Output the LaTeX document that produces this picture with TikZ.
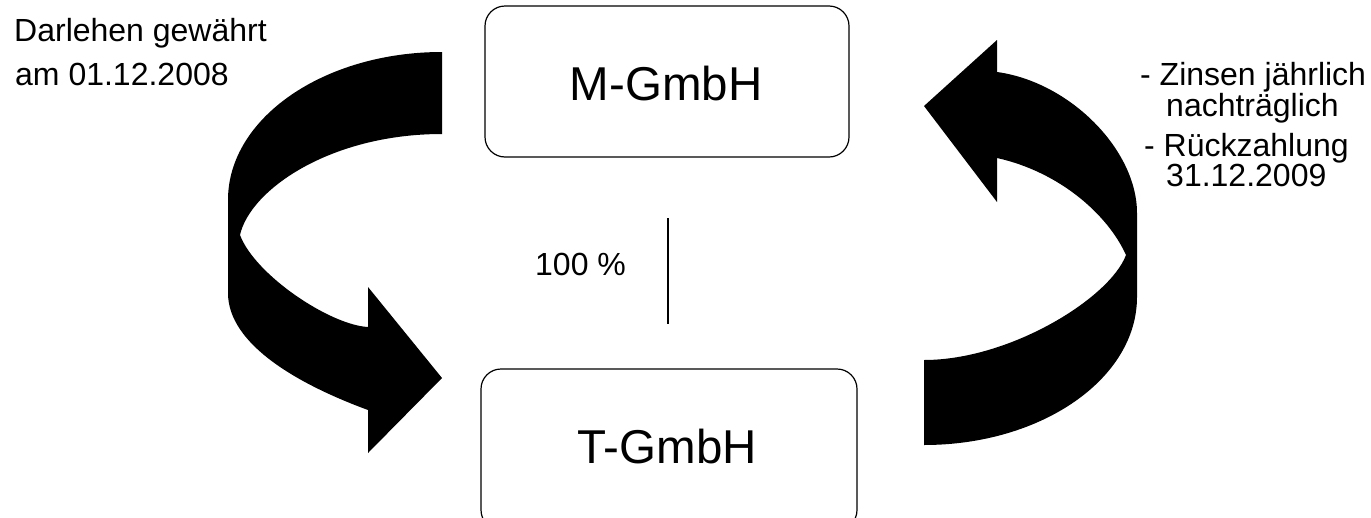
\documentclass[tikz,border=0pt]{standalone}
\usepackage{fontspec}
\setmainfont{Liberation Sans}
\begin{document}
\begin{tikzpicture}[x=1pt,y=-1pt,
  company/.style={draw,line width=1.2pt,rounded corners=20pt,inner sep=0pt},
  small/.style={font=\fontsize{32}{36}\selectfont,inner sep=0pt},
  big/.style={font=\fontsize{47.5}{54}\selectfont,inner sep=0pt},
  ribbon/.style={fill=black,draw=none}]
\useasboundingbox (0,0) rectangle (1371,517);
\clip (0,0) rectangle (1371,517);

% company boxes
\node[company,minimum width=364pt,minimum height=151pt] (M) at (667,81.5) {};
\node[company,minimum width=376pt,minimum height=161pt] (T) at (669,449.5) {};
\node[big,anchor=base] (Mlabel) at (666,100) {M-GmbH};
\node[big,anchor=base] (Tlabel) at (667,463) {T-GmbH};

% shareholding
\coordinate (ltop) at (668,218);
\coordinate (lbot) at (668,324);
\draw[line width=1.2pt] (ltop) -- (lbot);
\node[small,anchor=base west] (pct) at (535,275) {100 \%};

% loan granted: M-GmbH -> T-GmbH
\path[ribbon] (442,52) .. controls (324,52) and (228,118) .. (228,200)
  -- (228,293) .. controls (228,345) and (300,385) .. (368,410)
  -- (368,453) -- (442,378) -- (368,287) -- (368,327)
  .. controls (330,325) and (255,275) .. (240,235)
  .. controls (250,190) and (330,134) .. (442,134) -- cycle;

% interest and repayment: T-GmbH -> M-GmbH
\path[ribbon] (924,445) .. controls (1041.6,445) and (1137,378.7) .. (1137,297)
  -- (1137,213) .. controls (1137,150) and (1070,82) .. (997,72)
  -- (997,40) -- (924,106) -- (997,202) -- (997,158)
  .. controls (1060,172) and (1108,215) .. (1126,255)
  .. controls (1110,298) and (1010,360) .. (924,360) -- cycle;

% annotations
\node[small,anchor=base west] (loan1) at (14,41.5) {Darlehen gewährt};
\node[small,anchor=base west] (loan2) at (15,85) {am 01.12.2008};
\node[small,anchor=base west] (int1) at (1140,85.5) {- Zinsen jährlich};
\node[small,anchor=base west] (int2) at (1166,116.5) {nachträglich};
\node[small,anchor=base west] (rep1) at (1144,156) {- Rückzahlung};
\node[small,anchor=base west] (rep2) at (1166,186.5) {31.12.2009};
\end{tikzpicture}
\end{document}
